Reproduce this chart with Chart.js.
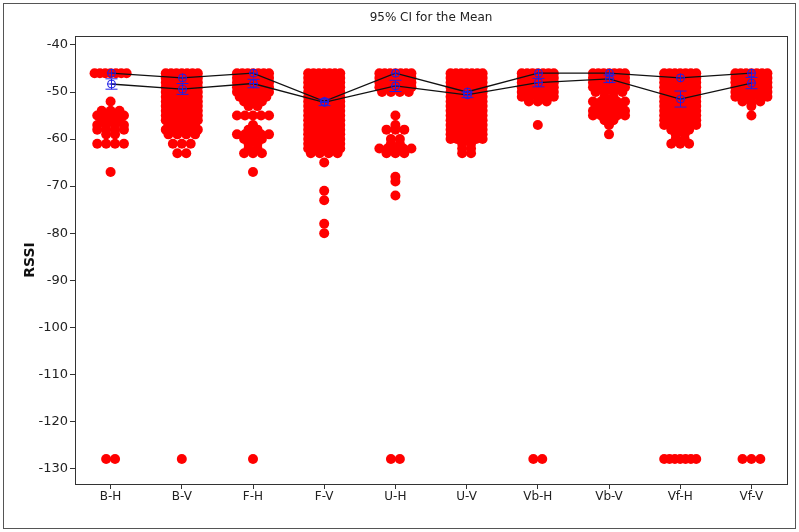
<!DOCTYPE html>
<html>
<head>
<meta charset="utf-8">
<script src="https://cdn.jsdelivr.net/npm/chart.js@4.4.0/dist/chart.umd.min.js"></script>
<style>
body { margin: 0; background: #fff; }
#wrap { width: 799px; height: 532px; }
</style>
</head>
<body>
<div id="wrap"><canvas id="ci_chart" width="799" height="532"></canvas></div>
<script>
var categories = ["B-H", "B-V", "F-H", "F-V", "U-H", "U-V", "Vb-H", "Vb-V", "Vf-H", "Vf-V"];
var yTicks = [-40, -50, -60, -70, -80, -90, -100, -110, -120, -130];
var chartTitle = "95% CI for the Mean";

// individual values per group: [RSSI, number of points at that value]
var dotsBH = [[-46, 7], [-52, 1], [-54, 3], [-55, 4], [-56, 3], [-57, 4], [-58, 4], [-59, 2], [-61, 4], [-67, 1], [-128, 2]];
var dotsBV = [[-46, 7], [-47, 7], [-48, 7], [-49, 7], [-50, 7], [-51, 7], [-52, 7], [-53, 7], [-54, 7], [-55, 7], [-56, 7],
    [-57, 4], [-58, 5], [-59, 4], [-61, 3], [-63, 2], [-128, 1]];
var dotsFH = [[-46, 7], [-47, 7], [-48, 7], [-49, 7], [-50, 6], [-51, 4], [-52, 3], [-53, 2], [-55, 5], [-57, 1], [-58, 2],
    [-59, 5], [-60, 3], [-61, 2], [-62, 2], [-63, 3], [-67, 1], [-128, 1]];
var dotsFV = [[-46, 7], [-47, 7], [-48, 7], [-49, 6], [-50, 7], [-51, 7], [-52, 7], [-53, 7], [-54, 7], [-55, 7], [-56, 7],
    [-57, 7], [-58, 7], [-59, 7], [-60, 6], [-61, 7], [-62, 6], [-63, 4], [-65, 1], [-71, 1], [-73, 1], [-78, 1], [-80, 1]];
var dotsUH = [[-46, 7], [-47, 7], [-48, 7], [-49, 6], [-50, 4], [-55, 1], [-57, 1], [-58, 3], [-60, 2], [-61, 2], [-62, 5],
    [-63, 3], [-68, 1], [-69, 1], [-72, 1], [-128, 2]];
var dotsUV = [[-46, 7], [-47, 7], [-48, 7], [-49, 7], [-50, 7], [-51, 7], [-52, 7], [-53, 7], [-54, 7], [-55, 7], [-56, 6],
    [-57, 7], [-58, 7], [-59, 7], [-60, 6], [-61, 2], [-62, 2], [-63, 2]];
var dotsVbH = [[-46, 7], [-47, 7], [-48, 7], [-49, 7], [-50, 6], [-51, 5], [-52, 3], [-57, 1], [-128, 2]];
var dotsVbV = [[-46, 7], [-47, 7], [-48, 6], [-49, 5], [-50, 4], [-51, 2], [-52, 5], [-53, 4], [-54, 5], [-55, 5], [-56, 2],
    [-57, 1], [-59, 1]];
var dotsVfH = [[-46, 7], [-47, 7], [-48, 7], [-49, 7], [-50, 7], [-51, 7], [-52, 7], [-53, 6], [-54, 6], [-55, 6], [-56, 5],
    [-57, 6], [-58, 3], [-59, 2], [-60, 2], [-61, 3], [-128, 7]];
var dotsVfV = [[-46, 7], [-47, 7], [-48, 7], [-49, 6], [-50, 6], [-51, 5], [-52, 3], [-53, 1], [-55, 1], [-128, 3]];
var groups = [dotsBH, dotsBV, dotsFH, dotsFV, dotsUH, dotsUV, dotsVbH, dotsVbV, dotsVfH, dotsVfV];

var medians = [-46, -47, -46, -52, -46, -50, -46, -46, -47, -46];
var means = [-48.3, -49.4, -48.2, -52.2, -48.7, -50.6, -48.0, -47.2, -51.5, -48.1];
var ciLow = [-49.4, -50.5, -49.1, -52.9, -49.9, -51.2, -48.9, -48.0, -53.2, -49.3];
var ciHigh = [-47.2, -48.2, -47.3, -51.5, -47.5, -50.0, -47.1, -46.4, -49.8, -46.9];

// put points with the same value side by side around the group centre
var points = [];
groups.forEach(function (rows, i) {
    rows.forEach(function (row) {
        var n = row[1];
        var step = n > 1 ? Math.min(0.125, 0.45 / (n - 1)) : 0;
        for (var k = 0; k < n; k++) {
            points.push({ x: i + (k - (n - 1) / 2) * step, y: row[0] });
        }
    });
});

function toXY(arr) {
    return arr.map(function (v, i) { return { x: i, y: v }; });
}

var framePlugin = {
    id: 'frame',
    beforeDraw: function (chart) {
        var ctx = chart.ctx;
        ctx.save();
        ctx.fillStyle = '#fff';
        ctx.fillRect(0, 0, chart.width, chart.height);
        ctx.strokeStyle = '#555';
        ctx.lineWidth = 1;
        ctx.strokeRect(3.5, 3.5, 792, 525);
        ctx.restore();
    },
    afterDraw: function (chart) {
        var ctx = chart.ctx, a = chart.chartArea;
        var xs = chart.scales.x, ys = chart.scales.y;
        ctx.save();
        ctx.strokeStyle = '#333';
        ctx.lineWidth = 1;
        ctx.strokeRect(Math.round(a.left) + 0.5, Math.round(a.top) + 0.5,
            Math.round(a.right - a.left), Math.round(a.bottom - a.top));

        // title centred over the plot area
        ctx.fillStyle = '#222';
        ctx.font = '12px "DejaVu Sans"';
        ctx.textAlign = 'center';
        ctx.textBaseline = 'middle';
        ctx.fillText(chartTitle, (a.left + a.right) / 2, 18);

        // mean symbols with 95% CI bars, median symbols
        ctx.strokeStyle = '#1f1fe6';
        function ring(x, y) {
            ctx.beginPath();
            ctx.arc(x, y, 4, 0, Math.PI * 2);
            ctx.moveTo(x - 4, y); ctx.lineTo(x + 4, y);
            ctx.moveTo(x, y - 4); ctx.lineTo(x, y + 4);
            ctx.stroke();
        }
        means.forEach(function (m, i) {
            var x = Math.round(xs.getPixelForValue(i)) + 0.5;
            var top = ys.getPixelForValue(ciHigh[i]);
            var bot = ys.getPixelForValue(ciLow[i]);
            ctx.beginPath();
            ctx.moveTo(x, top); ctx.lineTo(x, bot);
            ctx.moveTo(x - 6, top); ctx.lineTo(x + 6, top);
            ctx.moveTo(x - 6, bot); ctx.lineTo(x + 6, bot);
            ctx.stroke();
            ring(x, ys.getPixelForValue(m));
            ring(x, ys.getPixelForValue(medians[i]));
        });
        ctx.restore();
    }
};

var ctx = document.getElementById("ci_chart");
var config = {
    type: "scatter",
    data: {
        datasets: [{
            label: "RSSI",
            data: points,
            backgroundColor: "#ff0000",
            borderColor: "#ff0000",
            borderWidth: 0,
            pointRadius: 5,
            order: 3
        },
        {
            type: "line",
            label: "Median",
            data: toXY(medians),
            borderColor: "#111",
            borderWidth: 1.3,
            pointRadius: 0,
            order: 1
        },
        {
            type: "line",
            label: "Mean",
            data: toXY(means),
            borderColor: "#111",
            borderWidth: 1.3,
            pointRadius: 0,
            order: 1
        }
        ]
    },
    options: {
        responsive: false,
        animation: false,
        events: [],
        layout: { padding: { left: 6, right: 12, top: 36, bottom: 8 } },
        plugins: {
            legend: { display: false },
            tooltip: { enabled: false }
        },
        scales: {
            x: {
                type: "linear",
                min: -0.5,
                max: 9.5,
                afterBuildTicks: function (scale) {
                    scale.ticks = categories.map(function (c, i) { return { value: i }; });
                },
                afterFit: function (scale) { scale.height = 40; },
                ticks: {
                    autoSkip: false,
                    maxRotation: 0,
                    padding: 1,
                    color: "#222",
                    font: { family: "DejaVu Sans", size: 12 },
                    callback: function (v, i) { return categories[i]; }
                },
                grid: { display: true, drawOnChartArea: false, drawTicks: true, tickLength: 5, color: "#333" },
                border: { display: false }
            },
            y: {
                min: -133.3,
                max: -38.1,
                afterBuildTicks: function (scale) {
                    scale.ticks = yTicks.map(function (v) { return { value: v }; });
                },
                afterFit: function (scale) { scale.width = 69; },
                ticks: {
                    padding: 2,
                    color: "#222",
                    font: { family: "DejaVu Sans", size: 13 }
                },
                grid: { display: true, drawOnChartArea: false, drawTicks: true, tickLength: 5, color: "#333" },
                border: { display: false },
                title: {
                    display: true,
                    text: "RSSI",
                    color: "#111",
                    font: { family: "DejaVu Sans", size: 14, weight: "bold" },
                    padding: { top: 16, bottom: 0 }
                }
            }
        }
    },
    plugins: [framePlugin]
};

var ci_chart = new Chart(ctx, config);
</script>
</body>
</html>
